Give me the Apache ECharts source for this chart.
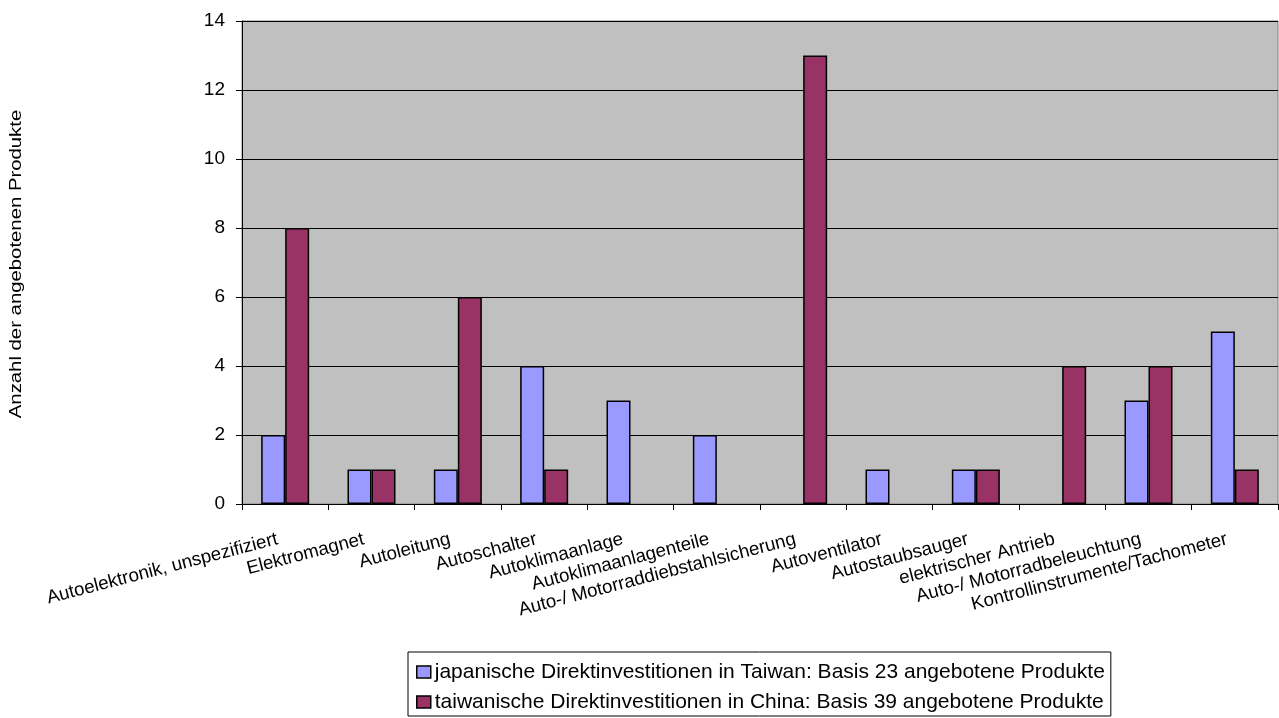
<!DOCTYPE html>
<html>
<head>
<meta charset="utf-8">
<script src="https://cdn.jsdelivr.net/npm/echarts@6/dist/echarts.min.js"></script>
<style>
  html, body { margin: 0; padding: 0; background: #ffffff; }
  #chart { width: 1279px; height: 718px; }
</style>
</head>
<body>
<div id="chart"></div>
<script>
// Produktkategorien
const categories = [
  'Autoelektronik, unspezifiziert',
  'Elektromagnet',
  'Autoleitung',
  'Autoschalter',
  'Autoklimaanlage',
  'Autoklimaanlagenteile',
  'Auto-/ Motorraddiebstahlsicherung',
  'Autoventilator',
  'Autostaubsauger',
  'elektrischer Antrieb',
  'Auto-/ Motorradbeleuchtung',
  'Kontrollinstrumente/Tachometer'
];

const seriesNames = [
  'japanische Direktinvestitionen in Taiwan: Basis 23 angebotene Produkte',
  'taiwanische Direktinvestitionen in China: Basis 39 angebotene Produkte'
];

// Anzahl angebotener Produkte je Kategorie
const japanInTaiwan = [2, 1, 1, 4, 3, 2, 0, 1, 1, 0, 3, 5];
const taiwanInChina = [8, 1, 6, 1, 0, 0, 13, 0, 1, 4, 4, 1];

const yTicks = { min: 0, max: 14, interval: 2 };
const yAxisTitle = 'Anzahl der angebotenen Produkte';

const font = 'Arial, "Liberation Sans", sans-serif';

// a count of zero leaves no visible bar
const asBars = values => values.map(v => (v === 0 ? '-' : v));

const chart = echarts.init(document.getElementById('chart'), null, { renderer: 'canvas' });

chart.setOption({
  animation: false,
  backgroundColor: '#ffffff',
  textStyle: { fontFamily: font, color: '#000' },
  grid: {
    left: 242, right: 1, top: 21, bottom: 214,
    show: true,
    backgroundColor: '#c0c0c0',
    borderColor: '#808080',
    borderWidth: 1
  },
  graphic: [{
    type: 'text',
    x: 17,
    y: 264,
    rotation: Math.PI / 2,
    scaleX: 1.27,
    style: {
      text: yAxisTitle,
      fontFamily: font,
      fontSize: 16,
      fill: '#000',
      align: 'center',
      verticalAlign: 'middle'
    }
  }],
  legend: {
    orient: 'vertical',
    left: 408,
    top: 652,
    padding: [8, 6, 2, 8],
    itemGap: 6,
    itemWidth: 14,
    itemHeight: 12,
    borderColor: '#000',
    borderWidth: 1,
    backgroundColor: '#fff',
    icon: 'rect',
    textStyle: { fontFamily: font, fontSize: 21, lineHeight: 24, color: '#000', padding: [0, 0, 0, -1] },
    data: seriesNames.map(n => ({ name: n, itemStyle: { borderColor: '#000', borderWidth: 1.5 } }))
  },
  xAxis: {
    type: 'category',
    data: categories,
    axisLine: { lineStyle: { color: '#000', width: 1 } },
    axisTick: { show: true, alignWithLabel: false, length: 6, lineStyle: { color: '#000' } },
    axisLabel: {
      interval: 0,
      rotate: 14.5,
      fontSize: 18.7,
      fontFamily: font,
      color: '#000',
      margin: 33,
      padding: [0, 8, 0, 0]
    }
  },
  yAxis: {
    type: 'value',
    min: yTicks.min,
    max: yTicks.max,
    interval: yTicks.interval,
    axisLine: { show: true, lineStyle: { color: '#000', width: 1 } },
    axisTick: { show: true, length: 6, lineStyle: { color: '#000' } },
    axisLabel: { fontSize: 19, fontFamily: font, color: '#000', margin: 17 },
    splitLine: { show: true, lineStyle: { color: '#000', width: 1 } }
  },
  series: [
    {
      name: seriesNames[0],
      type: 'bar',
      data: asBars(japanInTaiwan),
      barWidth: 24,
      barGap: '0%',
      itemStyle: { color: '#9999ff', borderColor: '#000', borderWidth: 1.5 }
    },
    {
      name: seriesNames[1],
      type: 'bar',
      data: asBars(taiwanInChina),
      barWidth: 24,
      barGap: '0%',
      itemStyle: { color: '#993366', borderColor: '#000', borderWidth: 1.5 }
    }
  ]
});
</script>
</body>
</html>
